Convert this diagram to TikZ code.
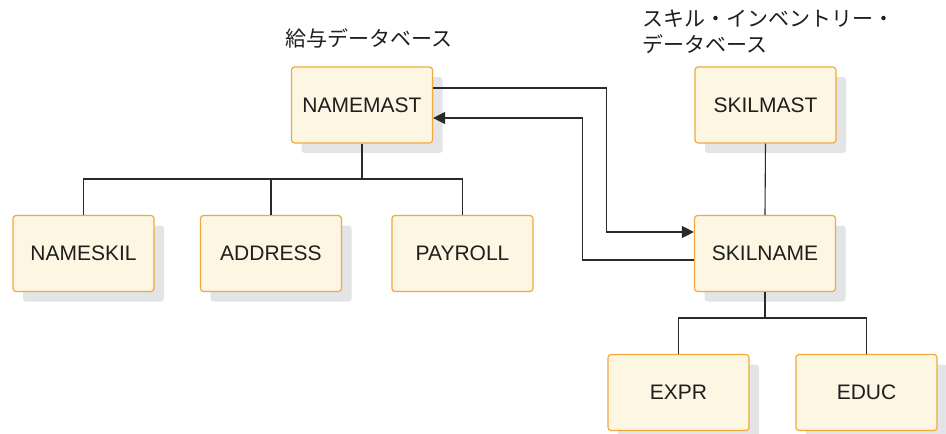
\documentclass[tikz,border=0pt]{standalone}
\usepackage{fontspec}
\setmainfont{Liberation Sans}
\newfontfamily\jpfont{Noto Sans CJK JP}
\usetikzlibrary{arrows.meta,shadows}
\definecolor{boxfill}{HTML}{FDF6E3}
\definecolor{boxdraw}{HTML}{F2A93B}
\definecolor{shadowgray}{HTML}{E3E4E6}
\definecolor{linegray}{HTML}{2A2A2A}
\definecolor{textdark}{HTML}{1E1E1E}
\tikzset{
  segbox/.style={draw=boxdraw, line width=1.2pt, fill=boxfill, rounded corners=3pt,
    minimum width=141pt, minimum height=76pt, inner sep=0pt,
    text=textdark, font=\fontsize{21}{25}\selectfont},
  shbox/.style={segbox, drop shadow={shadow xshift=10pt, shadow yshift=-10pt, fill=shadowgray, opacity=1}},
  conn/.style={draw=linegray, line width=1.1pt},
  arr/.style={conn, -{Triangle[length=12pt,width=12pt]}},
  jplabel/.style={font=\jpfont\fontsize{21}{26}\selectfont, text=textdark, inner sep=0pt, align=left}
}
\begin{document}
\begin{tikzpicture}[x=1pt,y=-1pt]
\useasboundingbox (0,0) rectangle (946,434);
% labels
\node[jplabel, anchor=west] (lab1) at (285,38) {給与データベース};
\node[jplabel, anchor=west] (lab2) at (642,32) {スキル・インベントリー・\\データベース};
% boxes
\node[shbox] (NAMEMAST) at (362,105) {NAMEMAST};
\node[shbox] (SKILMAST) at (765.5,105) {SKILMAST};
\node[shbox] (NAMESKIL) at (83.5,253.5) {NAMESKIL};
\node[shbox] (ADDRESS) at (271,253.5) {ADDRESS};
\node[segbox] (PAYROLL) at (462.5,253.5) {PAYROLL};
\node[shbox] (SKILNAME) at (765,253.5) {SKILNAME};
\node[shbox] (EXPR) at (678.5,392.5) {EXPR};
\node[shbox] (EDUC) at (866.5,392.5) {EDUC};
% tree lines left
\coordinate (bus1) at (362,179);
\draw[conn] (NAMEMAST.south) -- (bus1);
\draw[conn] (NAMESKIL.north) |- (PAYROLL.north |- bus1) -- (PAYROLL.north);
\draw[conn] (ADDRESS.north) -- (ADDRESS.north |- bus1);
% tree lines right
\coordinate (bus2) at (765,318);
\draw[conn] (SKILMAST.south) -- (SKILNAME.north);
\draw[conn] (SKILNAME.south) -- (bus2);
\draw[conn] (EXPR.north) |- (EDUC.north |- bus2) -- (EDUC.north);
% cross links
\draw[arr] ([yshift=17pt]NAMEMAST.east) -| ([xshift=-87pt,yshift=21.5pt]SKILNAME.west) -- ([yshift=21.5pt]SKILNAME.west);
\draw[arr] ([yshift=-6.5pt]SKILNAME.west) -| ([xshift=149pt,yshift=-13pt]NAMEMAST.east) -- ([yshift=-13pt]NAMEMAST.east);
\end{tikzpicture}
\end{document}
